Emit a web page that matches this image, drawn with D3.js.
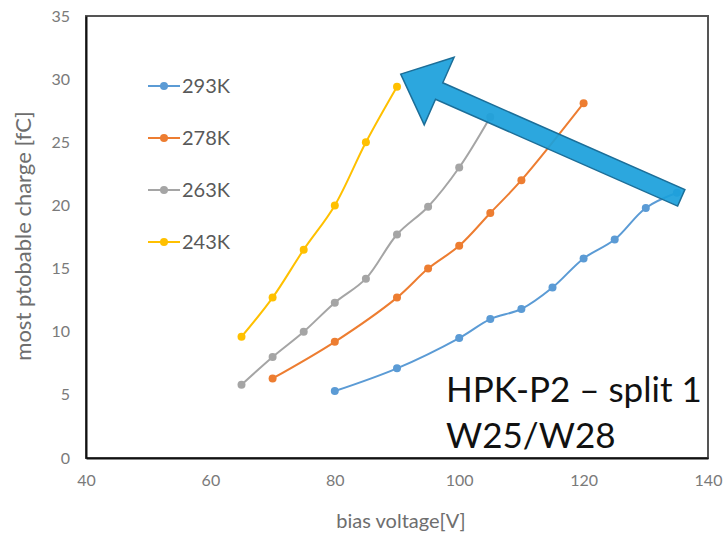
<!DOCTYPE html>
<html>
<head>
<meta charset="utf-8">
<script src="https://cdn.jsdelivr.net/npm/d3@7"></script>
<style>
  body { margin: 0; background: #fff; }
  text { font-family: Lato, "Open Sans", sans-serif; }
</style>
</head>
<body>
<div id="chart"></div>
<script>
// data
const voltage293 = [80, 90, 100, 105, 110, 115, 120, 125, 130, 135];
const charge293  = [5.3, 7.1, 9.5, 11.0, 11.8, 13.5, 15.8, 17.3, 19.8, 21.0];
const voltage278 = [70, 80, 90, 95, 100, 105, 110, 120];
const charge278  = [6.3, 9.2, 12.7, 15.0, 16.8, 19.4, 22.0, 28.1];
const voltage263 = [65, 70, 75, 80, 85, 90, 95, 100, 105];
const charge263  = [5.8, 8.0, 10.0, 12.3, 14.2, 17.7, 19.9, 23.0, 27.0];
const voltage243 = [65, 70, 75, 80, 85, 90];
const charge243  = [9.6, 12.7, 16.5, 20.0, 25.0, 29.4];

const seriesNames = ["293K", "278K", "263K", "243K"];
const seriesColors = ["#5B9BD5", "#ED7D31", "#A5A5A5", "#FFC000"];
const xTicks = [40, 60, 80, 100, 120, 140];
const yTicks = [0, 5, 10, 15, 20, 25, 30, 35];

// arrow annotation, in data units (tip, tail)
const arrowTip = [90.6, 30.4];
const arrowTail = [135.7, 20.6];

const width = 723, height = 533;
const margin = {top: 16, right: 15, bottom: 75, left: 86};

const svg = d3.select("#chart").append("svg")
  .attr("width", width)
  .attr("height", height);

const x = d3.scaleLinear().domain([40, 140]).range([margin.left, width - margin.right]);
const y = d3.scaleLinear().domain([0, 35]).range([height - margin.bottom, margin.top]);

const series = [
  {xs: voltage293, ys: charge293},
  {xs: voltage278, ys: charge278},
  {xs: voltage263, ys: charge263},
  {xs: voltage243, ys: charge243}
].map((s, i) => ({
  name: seriesNames[i],
  color: seriesColors[i],
  points: s.xs.map((v, j) => [v, s.ys[j]])
}));

// frame
svg.append("rect")
  .attr("x", margin.left).attr("y", margin.top)
  .attr("width", width - margin.left - margin.right)
  .attr("height", height - margin.top - margin.bottom)
  .attr("fill", "none")
  .attr("stroke", "#555")
  .attr("stroke-width", 2);

// axes
const xAxis = svg.append("g")
  .attr("transform", `translate(0,${height - margin.bottom})`)
  .call(d3.axisBottom(x).tickValues(xTicks).tickSize(0).tickPadding(17));
xAxis.select(".domain").attr("stroke", "#111").attr("stroke-width", 2);

const yAxis = svg.append("g")
  .attr("transform", `translate(${margin.left},0)`)
  .call(d3.axisLeft(y).tickValues(yTicks).tickSize(0).tickPadding(16));
yAxis.select(".domain").attr("stroke", "#111").attr("stroke-width", 2);

svg.selectAll(".tick text")
  .attr("fill", "#7a7a7a")
  .style("font-size", "16px")
  .style("font-family", "Lato, sans-serif");

// axis titles
svg.append("text")
  .attr("x", 401).attr("y", 528)
  .attr("text-anchor", "middle")
  .attr("fill", "#6e6e6e")
  .style("font-size", "20px")
  .text("bias voltage[V]");

svg.append("text")
  .attr("transform", "translate(31,236) rotate(-90)")
  .attr("text-anchor", "middle")
  .attr("fill", "#6e6e6e")
  .style("font-size", "22px")
  .text("most ptobable charge [fC]");

// lines
const line = d3.line()
  .x(d => x(d[0]))
  .y(d => y(d[1]))
  .curve(d3.curveCatmullRom);

const gSeries = svg.append("g");
series.forEach(s => {
  gSeries.append("path")
    .datum(s.points)
    .attr("d", line)
    .attr("fill", "none")
    .attr("stroke", s.color)
    .attr("stroke-width", 2);
  gSeries.selectAll(null)
    .data(s.points)
    .join("circle")
    .attr("cx", d => x(d[0]))
    .attr("cy", d => y(d[1]))
    .attr("r", 4)
    .attr("fill", s.color);
});

// legend
const legend = svg.append("g").attr("transform", "translate(148,86)");
series.forEach((s, i) => {
  const row = legend.append("g").attr("transform", `translate(0,${i * 52})`);
  row.append("line")
    .attr("x1", 0).attr("x2", 32)
    .attr("stroke", s.color).attr("stroke-width", 2);
  row.append("circle").attr("cx", 16).attr("r", 4).attr("fill", s.color);
  row.append("text")
    .attr("x", 34).attr("y", 7)
    .attr("fill", "#595959")
    .style("font-size", "20px")
    .text(s.name);
});

// big arrow annotation
const tip = [x(arrowTip[0]), y(arrowTip[1])];
const tail = [x(arrowTail[0]), y(arrowTail[1])];
const len = Math.hypot(tail[0] - tip[0], tail[1] - tip[1]);
const ux = (tail[0] - tip[0]) / len, uy = (tail[1] - tip[1]) / len;
const nx = -uy, ny = ux;
const headLen = 42, headHalf = 37, shaftHalf = 9;
const base = [tip[0] + ux * headLen, tip[1] + uy * headLen];
const arrowPts = [
  tip,
  [base[0] + nx * headHalf, base[1] + ny * headHalf],
  [base[0] + nx * shaftHalf, base[1] + ny * shaftHalf],
  [tail[0] + nx * shaftHalf, tail[1] + ny * shaftHalf],
  [tail[0] - nx * shaftHalf, tail[1] - ny * shaftHalf],
  [base[0] - nx * shaftHalf, base[1] - ny * shaftHalf],
  [base[0] - nx * headHalf, base[1] - ny * headHalf]
];
svg.append("polygon")
  .attr("points", arrowPts.map(p => p.join(",")).join(" "))
  .attr("fill", "#1CA0DC")
  .attr("fill-opacity", 0.93)
  .attr("stroke", "#1C6E98")
  .attr("stroke-width", 1.5)
  .attr("stroke-linejoin", "miter");

// label
const label = svg.append("text")
  .attr("fill", "#111")
  .style("font-size", "35px");
label.append("tspan").attr("x", 446).attr("y", 402).text("HPK-P2 \u2013 split 1");
label.append("tspan").attr("x", 446).attr("y", 448).text("W25/W28");
</script>
</body>
</html>
